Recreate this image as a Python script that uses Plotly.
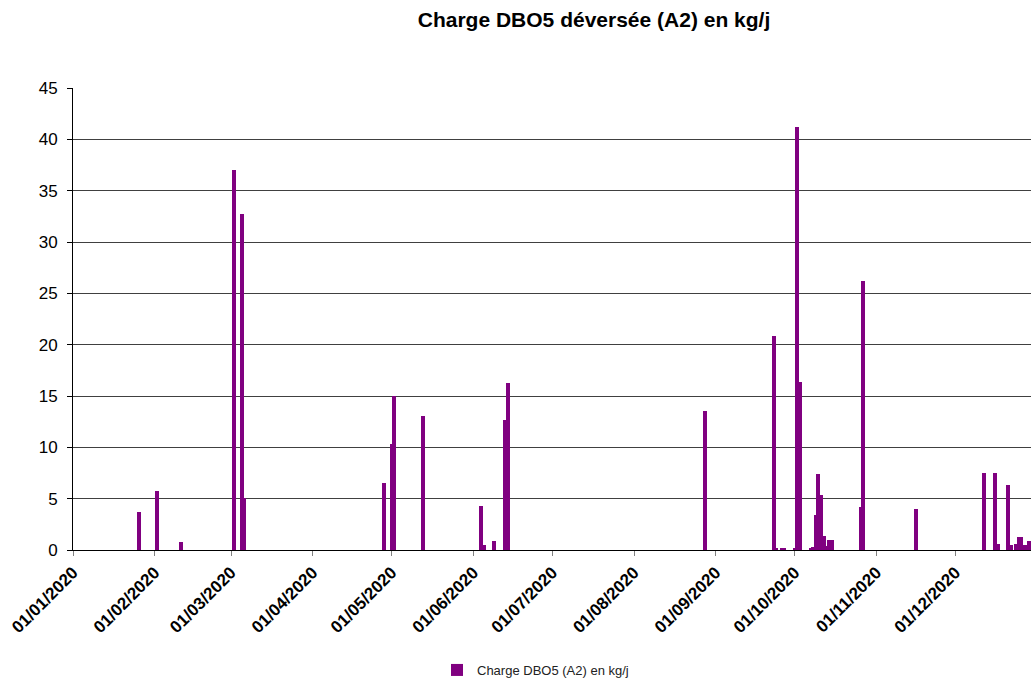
import plotly.graph_objects as go

# ---- data ----
dates = [
    "2020-01-26", "2020-02-02", "2020-02-11",
    "2020-03-02", "2020-03-05", "2020-03-06",
    "2020-04-28", "2020-05-01", "2020-05-02", "2020-05-13",
    "2020-06-04", "2020-06-05", "2020-06-09", "2020-06-13", "2020-06-14",
    "2020-08-28",
    "2020-09-23", "2020-09-24", "2020-09-26", "2020-09-27",
    "2020-10-01", "2020-10-02", "2020-10-03",
    "2020-10-07", "2020-10-08", "2020-10-09", "2020-10-10", "2020-10-11",
    "2020-10-12", "2020-10-13", "2020-10-14", "2020-10-15",
    "2020-10-26", "2020-10-27",
    "2020-11-16",
    "2020-12-12", "2020-12-16", "2020-12-17", "2020-12-21", "2020-12-22",
    "2020-12-24", "2020-12-25", "2020-12-26", "2020-12-27", "2020-12-28",
    "2020-12-29",
]
charge = [
    3.7, 5.7, 0.75,
    37.0, 32.7, 5.1,
    6.5, 10.3, 15.0, 13.1,
    4.3, 0.5, 0.85, 12.7, 16.3,
    13.5,
    20.8, 0.2, 0.2, 0.2,
    0.2, 41.2, 16.4,
    0.2, 0.3, 3.4, 7.4, 5.4,
    1.4, 0.4, 1.0, 1.0,
    4.2, 26.2,
    4.0,
    7.5, 7.5, 0.6, 6.3, 0.5,
    0.6, 1.3, 1.3, 0.5, 0.5,
    0.9,
]
tick_dates = [
    "2020-01-01", "2020-02-01", "2020-03-01", "2020-04-01", "2020-05-01",
    "2020-06-01", "2020-07-01", "2020-08-01", "2020-09-01", "2020-10-01",
    "2020-11-01", "2020-12-01",
]
tick_labels = [
    "01/01/2020", "01/02/2020", "01/03/2020", "01/04/2020", "01/05/2020",
    "01/06/2020", "01/07/2020", "01/08/2020", "01/09/2020", "01/10/2020",
    "01/11/2020", "01/12/2020",
]
y_ticks = [0, 5, 10, 15, 20, 25, 30, 35, 40, 45]

series_name = "Charge DBO5 (A2) en kg/j"
title_text = "Charge DBO5 déversée (A2) en kg/j"

DAY_MS = 86400000
FONT = "Liberation Sans, Arial, sans-serif"

W, H = 1031, 682

fig = go.Figure()
fig.add_trace(go.Bar(
    x=dates,
    y=charge,
    name=series_name,
    width=[1.5 * DAY_MS] * len(dates),
    marker=dict(color="#800080", line=dict(width=0)),
    showlegend=True,
))

fig.update_layout(
    template="none",
    width=W,
    height=H,
    margin=dict(l=73, r=0, t=88, b=H - 550, pad=0),
    paper_bgcolor="white",
    plot_bgcolor="white",
    font=dict(family=FONT, color="black"),
    title=dict(
        text="<b>" + title_text + "</b>",
        font=dict(family=FONT, size=21, color="black"),
        x=594 / W, xref="container", xanchor="center",
        y=1 - 20 / H, yref="container", yanchor="middle",
    ),
    showlegend=True,
    legend=dict(
        orientation="h",
        xref="container", yref="container",
        x=437 / W, xanchor="left",
        y=1 - 670 / H, yanchor="middle",
        font=dict(family=FONT, size=13, color="#222222"),
        itemwidth=30,
        bgcolor="rgba(0,0,0,0)",
    ),
    bargap=0,
    xaxis=dict(
        type="date",
        range=["2020-01-01", "2020-12-29 16:48"],
        tickmode="array",
        tickvals=tick_dates,
        ticktext=["<b>" + t + "</b>" for t in tick_labels],
        tickangle=-45,
        tickfont=dict(family=FONT, size=17, color="black"),
        ticks="outside",
        ticklen=5,
        tickcolor="#808080",
        showgrid=False,
        showline=True,
        linecolor="black",
        linewidth=1,
        zeroline=False,
        automargin=False,
        fixedrange=True,
    ),
    yaxis=dict(
        range=[0, 45],
        tickmode="array",
        tickvals=y_ticks,
        ticktext=[str(v) for v in y_ticks],
        tickfont=dict(family=FONT, size=17, color="black"),
        ticks="outside",
        ticklen=5,
        tickcolor="black",
        ticklabelstandoff=6,
        showgrid=True,
        gridcolor="#404040",
        gridwidth=1,
        showline=True,
        linecolor="black",
        linewidth=1,
        zeroline=False,
        automargin=False,
        fixedrange=True,
    ),
)

fig.write_html(
    "out.html",
    config={"displayModeBar": False},
    post_script="document.body.style.margin='0';document.body.style.overflow='hidden';",
)
